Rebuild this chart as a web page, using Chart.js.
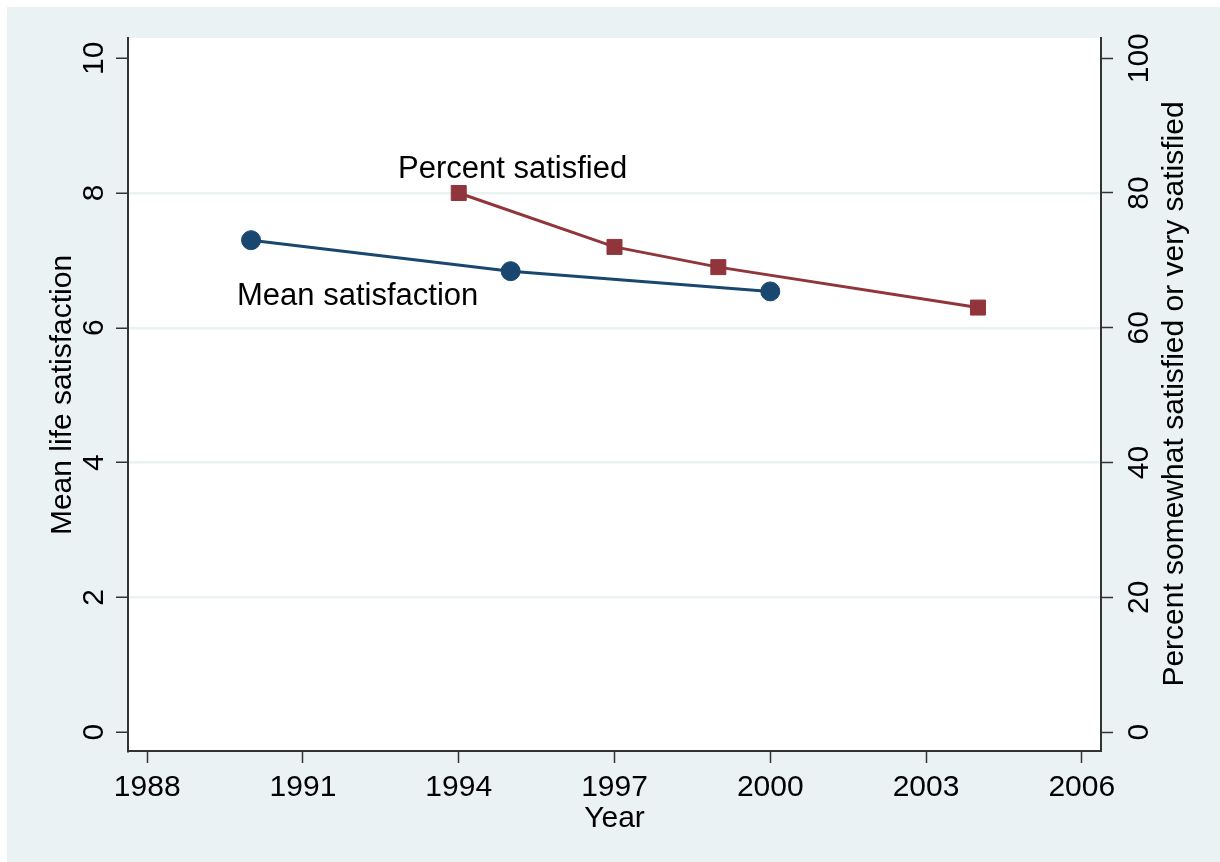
<!DOCTYPE html>
<html>
<head>
<meta charset="utf-8">
<script src="https://cdn.jsdelivr.net/npm/chart.js@4"></script>
<style>
  html, body { margin: 0; padding: 0; background: #eaf2f3; overflow: hidden; }
  #wrap { width: 1220px; height: 862px; }
</style>
</head>
<body>
<div id="wrap"><canvas id="canvasOne" width="1220" height="862"></canvas></div>
<script>
// data
const xTicks = [1988, 1991, 1994, 1997, 2000, 2003, 2006];
const leftTicks = [0, 2, 4, 6, 8, 10];
const rightTicks = [0, 20, 40, 60, 80, 100];

const meanYears = [1990, 1995, 2000];
const meanValues = [7.3, 6.84, 6.54];

const pctYears = [1994, 1997, 1999, 2004];
const pctValues = [80, 72, 69, 63];

const FONT = '"Liberation Sans", Arial, sans-serif';
const NAVY = "#1a476f";
const MAROON = "#90353b";
const BG = "#eaf2f3";

// labels next to the lines (data units)
const seriesLabels = [
  { text: "Percent satisfied", x: 1992.83, y: 82.3, axis: "y2" },
  { text: "Mean satisfaction", x: 1989.73, y: 6.34, axis: "y" },
];

const toPoints = (xs, ys) => xs.map((x, i) => ({ x: x, y: ys[i] }));

// background, white plot area and all the text
const stataPlugin = {
  id: "stata",
  beforeDraw(chart) {
    const { ctx, chartArea } = chart;
    ctx.save();
    ctx.fillStyle = "#fff";
    ctx.fillRect(0, 0, chart.width, chart.height);
    ctx.fillStyle = BG;
    ctx.fillRect(7, 7, chart.width - 7, chart.height - 7);
    ctx.fillStyle = "#fff";
    ctx.fillRect(chartArea.left, chartArea.top, chartArea.right - chartArea.left, chartArea.bottom - chartArea.top);
    ctx.restore();
  },
  afterDraw(chart) {
    const { ctx, scales } = chart;
    ctx.save();
    ctx.fillStyle = "#000";
    ctx.font = "30px " + FONT;
    ctx.textAlign = "center";
    ctx.textBaseline = "alphabetic";

    // x tick labels + title
    xTicks.forEach((v) => ctx.fillText(String(v), scales.x.getPixelForValue(v), 796));
    ctx.fillText("Year", scales.x.getPixelForValue(1997), 827);

    const vtext = (txt, x, y) => {
      ctx.save();
      ctx.translate(x, y);
      ctx.rotate(-Math.PI / 2);
      ctx.fillText(txt, 0, 0);
      ctx.restore();
    };
    leftTicks.forEach((v) => vtext(String(v), 103, scales.y.getPixelForValue(v)));
    rightTicks.forEach((v) => vtext(String(v), 1148, scales.y2.getPixelForValue(v)));
    vtext("Mean life satisfaction", 71, 395);
    vtext("Percent somewhat satisfied or very satisfied", 1183, 394);

    // series labels
    ctx.font = "31px " + FONT;
    ctx.textAlign = "left";
    seriesLabels.forEach((l) => {
      ctx.fillText(l.text, scales.x.getPixelForValue(l.x), scales[l.axis].getPixelForValue(l.y));
    });
    ctx.restore();
  },
};

const canvas = document.getElementById("canvasOne");

new Chart(canvas, {
  type: "scatter",
  data: {
    datasets: [
      {
        label: "Mean satisfaction",
        data: toPoints(meanYears, meanValues),
        yAxisID: "y",
        showLine: true,
        borderColor: NAVY,
        backgroundColor: NAVY,
        borderWidth: 3,
        pointStyle: "circle",
        pointRadius: 9.5,
        pointBorderWidth: 1,
      },
      {
        label: "Percent satisfied",
        data: toPoints(pctYears, pctValues),
        yAxisID: "y2",
        showLine: true,
        borderColor: MAROON,
        backgroundColor: MAROON,
        borderWidth: 3,
        pointStyle: "rect",
        pointRadius: 10.6,
        pointBorderWidth: 1,
      },
    ],
  },
  options: {
    responsive: false,
    animation: false,
    devicePixelRatio: 1,
    layout: { padding: { top: 38, left: 0, right: 0, bottom: 0 } },
    plugins: {
      legend: { display: false },
      tooltip: { enabled: false },
    },
    scales: {
      x: {
        type: "linear",
        min: 1987.63,
        max: 2006.37,
        afterBuildTicks: (scale) => { scale.ticks = xTicks.map((v) => ({ value: v })); },
        afterFit: (scale) => { scale.height = 111; },
        ticks: { display: false },
        border: { display: true, color: "#333", width: 2 },
        grid: { drawOnChartArea: false, drawTicks: true, tickLength: 12, tickColor: "#333", tickWidth: 1.5 },
      },
      y: {
        position: "left",
        min: -0.28,
        max: 10.3,
        afterBuildTicks: (scale) => { scale.ticks = leftTicks.map((v) => ({ value: v })); },
        afterFit: (scale) => { scale.width = 128; },
        ticks: { display: false },
        border: { display: true, color: "#333", width: 2 },
        grid: {
          color: (c) => (c.tick && (c.tick.value === 0 || c.tick.value === 10) ? "rgba(0,0,0,0)" : BG),
          lineWidth: 2.5,
          drawTicks: true,
          tickLength: 12,
          tickColor: "#333",
          tickWidth: 1.5,
        },
      },
      y2: {
        position: "right",
        min: -2.8,
        max: 103,
        afterBuildTicks: (scale) => { scale.ticks = rightTicks.map((v) => ({ value: v })); },
        afterFit: (scale) => { scale.width = 119; },
        ticks: { display: false },
        border: { display: true, color: "#333", width: 2 },
        grid: { drawOnChartArea: false, drawTicks: true, tickLength: 12, tickColor: "#333", tickWidth: 1.5 },
      },
    },
  },
  plugins: [stataPlugin],
});
</script>
</body>
</html>
